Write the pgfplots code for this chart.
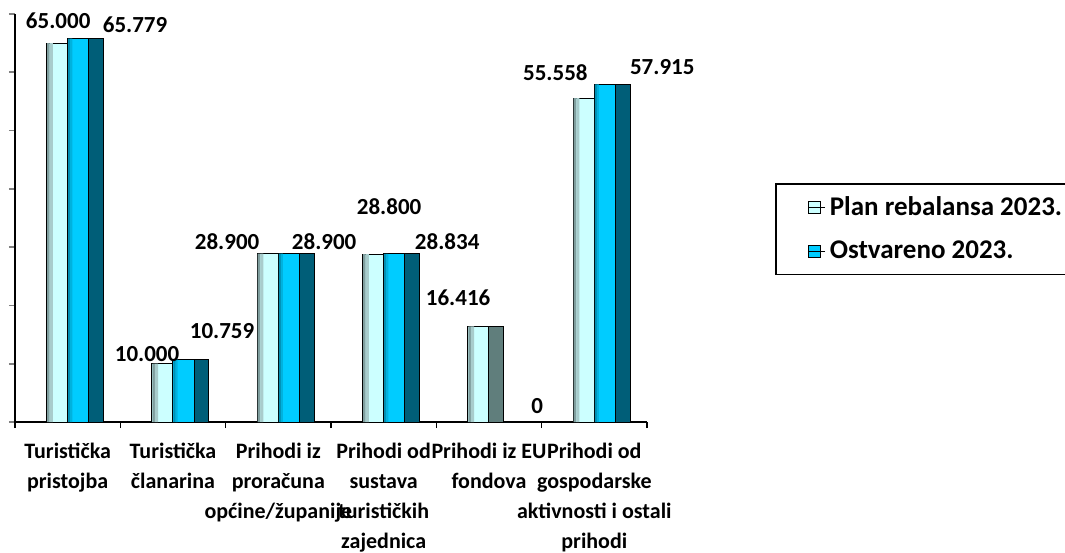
\documentclass[border=0pt]{standalone}
\usepackage{fontspec}
\setmainfont{Carlito}
\usepackage{pgfplots}
\usepackage{pgfplotstable}
\pgfplotsset{compat=1.18}
\definecolor{planL}{HTML}{CCFFFF}
\definecolor{planM}{HTML}{A8CCCC}
\definecolor{planD}{HTML}{7F9E9E}
\definecolor{ostL}{HTML}{00CCFF}
\definecolor{ostM}{HTML}{00B2DE}
\definecolor{ostD}{HTML}{0090B4}
\definecolor{sideO}{HTML}{005E78}
\definecolor{sideP}{HTML}{607E7C}
\pgfplotstableread{
x plan
0 65
1 10
2 28.9
3 28.8
4 16.416
5 55.558
}\plandata
\pgfplotstableread{
x ost
0 65.779
1 10.759
2 28.9
3 28.834
4 0
5 57.915
}\ostdata
\begin{document}
\begin{tikzpicture}
\begin{axis}[
  at={(7.5pt,65pt)}, anchor=south west,
  scale only axis, width=316pt, height=204pt,
  xmin=-0.5, xmax=5.5, ymin=0, ymax=70,
  axis lines=left, axis line style={-, line width=0.8pt},
  clip=false,
  ybar=0pt,
  ytick={0,10,...,70}, yticklabels={},
  tick align=outside, major tick length=3pt,
  ytick style={line width=0.8pt},
  xtick={0,...,5},
  xtick style={draw=none},
  xticklabels={Turistička\\pristojba, Turistička\\članarina, Prihodi iz\\proračuna\\općine/županije, Prihodi od\\sustava\\turističkih\\zajednica, Prihodi iz EU\\fondova, Prihodi od\\gospodarske\\aktivnosti i ostali\\prihodi},
  xticklabel style={align=center, anchor=north, yshift=-4pt, font=\bfseries\fontsize{11}{15}\selectfont},
  extra x ticks={-0.5,0.5,1.5,2.5,3.5,4.5,5.5},
  extra x tick labels={},
  extra x tick style={xtick style={draw=black, line width=0.8pt}},
  legend style={at={(1.2025,0.586)}, anchor=north west, draw=black, line width=0.9pt,
    font=\bfseries\fontsize{13.5}{15}\selectfont, inner xsep=16pt, inner ysep=4.5pt, row sep=7pt},
  legend cell align=left,
  legend image code/.code={\draw[#1, line width=0.5pt] (0pt,-3pt) rectangle (6pt,3pt); \path (0pt,0pt) -- (8.5pt,0pt);},
]
\addplot[draw=black, line width=0.5pt, fill=planL, bar width=0.2, bar shift=-0.1] table[x=x, y=plan] {\plandata};
\addlegendentry{Plan rebalansa 2023.\hspace{10pt}}
\addplot[draw=black, line width=0.5pt, fill=ostL, bar width=0.2, bar shift=0.1] table[x=x, y=ost] {\ostdata};
\addlegendentry{Ostvareno 2023.}
% left-edge darkening of the bars
\addplot[forget plot, draw=none, fill=planD, bar width=0.025, bar shift=-0.1835] table[x=x, y=plan] {\plandata};
\addplot[forget plot, draw=none, fill=planM, bar width=0.03, bar shift=-0.156] table[x=x, y=plan] {\plandata};
\addplot[forget plot, draw=none, fill=ostD, bar width=0.02, bar shift=0.014] table[x=x, y=ost] {\ostdata};
\addplot[forget plot, draw=none, fill=ostM, bar width=0.02, bar shift=0.034] table[x=x, y=ost] {\ostdata};
% side faces
\addplot[forget plot, draw=black, line width=0.5pt, fill=sideO, bar width=0.14, bar shift=0.27] coordinates {(0,65.779) (1,10.759) (2,28.9) (3,28.834) (5,57.915)};
\addplot[forget plot, draw=black, line width=0.5pt, fill=sideP, bar width=0.14, bar shift=0.07] coordinates {(4,16.416)};
\begin{scope}[every node/.style={font=\bfseries\fontsize{11.5}{13}\selectfont}]
\node at (axis cs:-0.09,68.8) {65.000};
\node at (axis cs:0.64,68.1) {65.779};
\node at (axis cs:0.754,11.7) {10.000};
\node at (axis cs:1.466,15.6) {10.759};
\node at (axis cs:1.514,30.9) {28.900};
\node at (axis cs:2.435,30.9) {28.900};
\node at (axis cs:3.052,36.9) {28.800};
\node at (axis cs:3.603,31.0) {28.834};
\node at (axis cs:3.707,21.3) {16.416};
\node at (axis cs:4.457,2.7) {0};
\node at (axis cs:4.63,59.9) {55.558};
\node at (axis cs:5.645,60.9) {57.915};
\end{scope}
\end{axis}
\pgfresetboundingbox
\path (0,0) rectangle (532.5pt,276pt);
\end{tikzpicture}
\end{document}
